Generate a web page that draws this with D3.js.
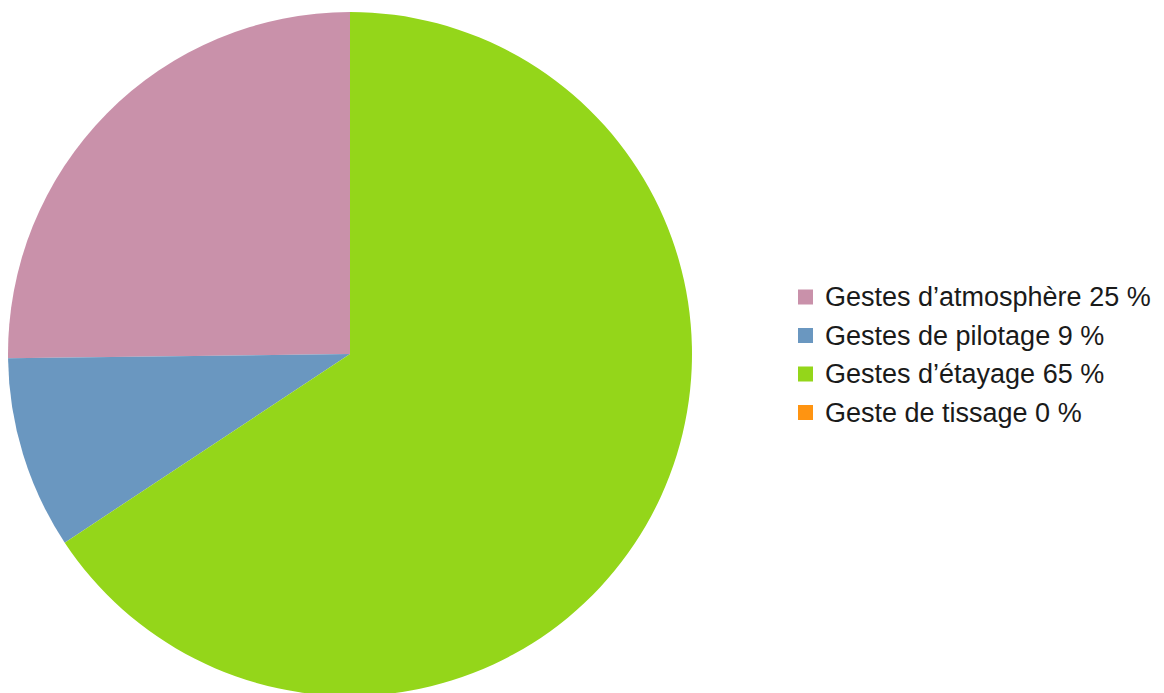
<!DOCTYPE html>
<html>
<head>
    <meta charset="utf-8">
    <script src="https://cdn.jsdelivr.net/npm/d3@7"></script>
    <style>
        body { margin: 0; background: #fff; }
        text { font-family: "Liberation Sans", Arial, sans-serif; }
    </style>
</head>
<body>
    <div id="chart"></div>
    <script>
        // data
        var labels = ["Gestes d\u2019atmosph\u00e8re", "Gestes de pilotage", "Gestes d\u2019\u00e9tayage", "Geste de tissage"];
        var values = [25.2, 9.1, 65.7, 0];
        var shown = ["25 %", "9 %", "65 %", "0 %"];
        var colors = ["#c991aa", "#6a97c0", "#94d61a", "#ff9411"];

        var width = 1164, height = 693;
        var cx = 350, cy = 354, radius = 342;

        var svg = d3.select("#chart")
            .append("svg")
            .attr("width", width)
            .attr("height", height);

        var data = labels.map(function (d, i) {
            return { label: d, value: values[i], text: shown[i], color: colors[i] };
        });

        // counter-clockwise from 12 o'clock
        var pie = d3.pie()
            .sort(null)
            .startAngle(0)
            .endAngle(-2 * Math.PI)
            .value(function (d) { return d.value });

        var arc = d3.arc().innerRadius(0).outerRadius(radius);

        var g = svg.append("g")
            .attr("transform", "translate(" + cx + "," + cy + ")");

        g.selectAll("path")
            .data(pie(data))
            .enter()
            .append("path")
            .attr("d", arc)
            .style("fill", function (d) { return d.data.color });

        // legend
        var legend = svg.append("g")
            .attr("transform", "translate(798,297)");

        var rows = legend.selectAll("g")
            .data(data)
            .enter()
            .append("g")
            .attr("transform", function (d, i) { return "translate(0," + (i * 38.5) + ")" });

        rows.append("rect")
            .attr("x", 0)
            .attr("y", -7.5)
            .attr("width", 15)
            .attr("height", 15)
            .style("fill", function (d) { return d.color });

        rows.append("text")
            .attr("x", 27)
            .attr("y", 0)
            .attr("dy", "0.35em")
            .style("font-size", "27px")
            .style("fill", "#1a1a1a")
            .text(function (d) { return d.label + " " + d.text });
    </script>
</body>
</html>
